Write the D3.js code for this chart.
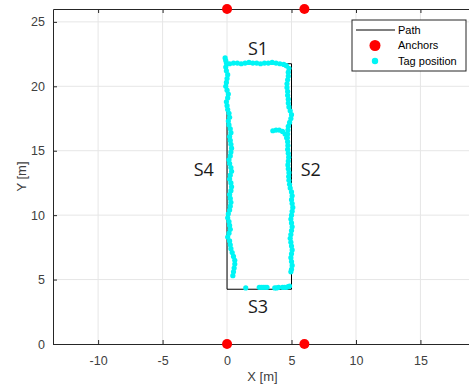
<!DOCTYPE html>
<html>
<head>
<meta charset="utf-8">
<script src="https://cdn.jsdelivr.net/npm/d3@7"></script>
<style>
  body { margin: 0; background: #fff; }
  svg { display: block; font-family: "Liberation Sans", Arial, sans-serif; }
</style>
</head>
<body>
<div id="chart"></div>
<script>
// Planned path (rectangle walked by the tag)
const pathX = [0, 5, 5, 0, 0];
const pathY = [4.25, 4.25, 21.75, 21.75, 4.25];

// Anchor positions
const anchorX = [0, 6, 0, 6];
const anchorY = [0, 0, 26, 26];

// Estimated tag positions
const tagX = [
  // S4 (left side)
  0.45, 0.5, 0.55, 0.6, 0.6, 0.5, 0.4, 0.3, 0.25, 0.2, 0.05, 0.15, 0.25, 0.2, 0.15, 0.05, 0.1, 0.2, 0.25, 0.3,
  0.25, 0.2, 0.3, 0.35, 0.3, 0.2, 0.25, 0.35, 0.3, 0.2, 0.15, 0.25, 0.3, 0.35, 0.3, 0.25, 0.2, 0.3, 0.25, 0.15,
  0.1, 0.2, 0.15, 0.05, 0.0, -0.05, 0.05, 0.1, 0.0, -0.1, -0.05, 0.0, 0.05, -0.05, -0.1, -0.05, -0.1, -0.15,
  // S1 (top)
  0.2, 0.5, 0.8, 1.1, 1.4, 1.7, 2.0, 2.3, 2.6, 2.9, 3.2, 3.5, 3.8, 4.1, 4.4, 4.6,
  // S2 (right side)
  4.8, 4.75, 4.75, 4.7, 4.65, 4.65, 4.7, 4.7, 4.75, 4.75, 4.8, 4.9, 5.0, 4.95, 4.85, 4.75, 4.72, 4.7, 4.68, 4.7,
  4.72, 4.7, 4.75, 4.78, 4.75, 4.72, 4.75, 4.8, 4.78, 4.8, 4.85, 4.9, 5.0, 5.05, 5.0, 5.05, 5.1, 5.05, 5.0, 4.95,
  5.0, 5.05, 5.0, 4.95, 4.9, 4.95, 5.0, 5.05, 5.0, 4.95, 5.0, 5.05, 5.0, 4.95,
  // hook near y = 16.5
  3.55, 3.8, 4.05, 4.3, 4.5, 4.62,
  // S3 (bottom)
  1.45, 2.5, 2.65, 2.8, 2.95, 3.1, 3.7, 3.85, 4.0, 4.3, 4.45, 4.6, 4.75, 4.85
];
const tagY = [
  // S4
  5.3, 5.6, 5.9, 6.2, 6.5, 6.8, 7.1, 7.4, 7.7, 8.0, 8.3, 8.6, 8.9, 9.2, 9.5, 9.8, 10.1, 10.4, 10.7, 11.0,
  11.3, 11.6, 11.9, 12.2, 12.5, 12.8, 13.1, 13.4, 13.7, 14.0, 14.3, 14.6, 14.9, 15.2, 15.5, 15.8, 16.1, 16.4, 16.7, 17.0,
  17.3, 17.6, 17.9, 18.2, 18.5, 18.8, 19.1, 19.4, 19.7, 20.0, 20.3, 20.6, 20.9, 21.2, 21.5, 21.8, 22.0, 22.2,
  // S1
  21.75, 21.8, 21.8, 21.75, 21.8, 21.85, 21.8, 21.8, 21.75, 21.8, 21.8, 21.85, 21.8, 21.75, 21.7, 21.6,
  // S2
  21.4, 21.1, 20.8, 20.5, 20.2, 19.9, 19.6, 19.3, 19.0, 18.7, 18.4, 18.1, 17.8, 17.5, 17.2, 16.9, 16.6, 16.3, 16.0, 15.7,
  15.4, 15.1, 14.8, 14.5, 14.2, 13.9, 13.6, 13.3, 13.0, 12.7, 12.4, 12.1, 11.8, 11.5, 11.2, 10.9, 10.6, 10.3, 10.0, 9.7,
  9.4, 9.1, 8.8, 8.5, 8.2, 7.9, 7.6, 7.3, 7.0, 6.7, 6.4, 6.1, 5.8, 5.6,
  // hook
  16.55, 16.6, 16.6, 16.5, 16.3, 16.0,
  // S3
  4.35, 4.4, 4.4, 4.4, 4.4, 4.4, 4.35, 4.35, 4.4, 4.4, 4.4, 4.4, 4.45, 4.5
];

// Segment labels
const segNames = ['S1', 'S2', 'S3', 'S4'];
const segX = [2.4, 6.5, 2.4, -1.8];
const segY = [22.9, 13.5, 2.9, 13.5];

const xTicks = [-10, -5, 0, 5, 10, 15];
const yTicks = [0, 5, 10, 15, 20, 25];
const legendItems = ['Path', 'Anchors', 'Tag position'];

const width = 469, height = 390;
const margin = { top: 9, left: 53, bottom: 46, right: -3 };
const axisColor = '#262626';

const svg = d3.select('#chart').append('svg')
  .attr('width', width)
  .attr('height', height);

const x = d3.scaleLinear().domain([-13.5, 19]).range([margin.left, width - margin.right]);
const y = d3.scaleLinear().domain([0, 26]).range([height - margin.bottom, margin.top]);

// Grid
svg.append('g').selectAll('line.gx')
  .data(xTicks).enter().append('line')
  .attr('x1', d => x(d)).attr('x2', d => x(d))
  .attr('y1', y(0)).attr('y2', y(26))
  .attr('stroke', '#e6e6e6').attr('stroke-width', 1);
svg.append('g').selectAll('line.gy')
  .data(yTicks.filter(d => d > 0)).enter().append('line')
  .attr('x1', x(-13.5)).attr('x2', x(19))
  .attr('y1', d => y(d)).attr('y2', d => y(d))
  .attr('stroke', '#e6e6e6').attr('stroke-width', 1);

// Axes (ticks point inward)
const xAxis = svg.append('g')
  .attr('transform', `translate(0,${y(0)})`)
  .call(d3.axisBottom(x).tickValues(xTicks).tickSizeInner(-4).tickSizeOuter(0).tickPadding(12));
const xAxisTop = svg.append('g')
  .attr('transform', `translate(0,${y(26)})`)
  .call(d3.axisTop(x).tickValues(xTicks).tickSizeInner(-4).tickSizeOuter(0).tickFormat(''));
const yAxis = svg.append('g')
  .attr('transform', `translate(${x(-13.5)},0)`)
  .call(d3.axisLeft(y).tickValues(yTicks).tickSizeInner(-4).tickSizeOuter(0).tickPadding(8));

[xAxis, xAxisTop, yAxis].forEach(a => {
  a.select('.domain').attr('stroke', axisColor).attr('stroke-width', 1);
  a.selectAll('.tick line').attr('stroke', axisColor);
  a.selectAll('.tick text').attr('fill', '#404040').style('font-size', '12.5px');
});
xAxis.selectAll('.tick text').text(d => d < 0 ? '-' + Math.abs(d) : d);

// Axis labels
svg.append('text')
  .attr('x', (x(-13.5) + x(19)) / 2)
  .attr('y', 381)
  .attr('text-anchor', 'middle')
  .attr('fill', '#404040')
  .style('font-size', '13px')
  .text('X [m]');
svg.append('text')
  .attr('transform', `translate(26,${(y(0) + y(26)) / 2}) rotate(-90)`)
  .attr('text-anchor', 'middle')
  .attr('fill', '#404040')
  .style('font-size', '13px')
  .text('Y [m]');

// Path
const line = d3.line().x(d => x(d[0])).y(d => y(d[1]));
svg.append('path')
  .datum(d3.zip(pathX, pathY))
  .attr('d', line)
  .attr('fill', 'none')
  .attr('stroke', '#000')
  .attr('stroke-width', 1);

// Tag positions
svg.append('g').selectAll('circle')
  .data(d3.zip(tagX, tagY)).enter().append('circle')
  .attr('cx', d => x(d[0]))
  .attr('cy', d => y(d[1]))
  .attr('r', 2.6)
  .attr('fill', '#00f5f5');

// Anchors
svg.append('g').selectAll('circle')
  .data(d3.zip(anchorX, anchorY)).enter().append('circle')
  .attr('cx', d => x(d[0]))
  .attr('cy', d => y(d[1]))
  .attr('r', 5)
  .attr('fill', '#ff0000');

// Segment labels
svg.append('g').selectAll('text')
  .data(segNames).enter().append('text')
  .attr('x', (d, i) => x(segX[i]))
  .attr('y', (d, i) => y(segY[i]))
  .attr('dy', '0.35em')
  .attr('text-anchor', 'middle')
  .attr('fill', '#1a1a1a')
  .style('font-family', '"Open Sans", "DejaVu Sans", sans-serif')
  .style('font-size', '18px')
  .text(d => d);

// Legend
const lg = svg.append('g').attr('transform', 'translate(352,20)');
lg.append('rect')
  .attr('width', 114).attr('height', 51)
  .attr('fill', '#fff').attr('stroke', axisColor).attr('stroke-width', 1);
const rowY = [10, 25.5, 41];
lg.append('line')
  .attr('x1', 4).attr('x2', 43).attr('y1', rowY[0]).attr('y2', rowY[0])
  .attr('stroke', '#000').attr('stroke-width', 1);
lg.append('circle').attr('cx', 23).attr('cy', rowY[1]).attr('r', 5.5).attr('fill', '#ff0000');
lg.append('circle').attr('cx', 23).attr('cy', rowY[2]).attr('r', 3.2).attr('fill', '#00f5f5');
lg.selectAll('text.lt')
  .data(legendItems).enter().append('text')
  .attr('x', 46)
  .attr('y', (d, i) => rowY[i])
  .attr('dy', '0.35em')
  .attr('fill', '#000')
  .style('font-size', '11px')
  .text(d => d);
</script>
</body>
</html>
